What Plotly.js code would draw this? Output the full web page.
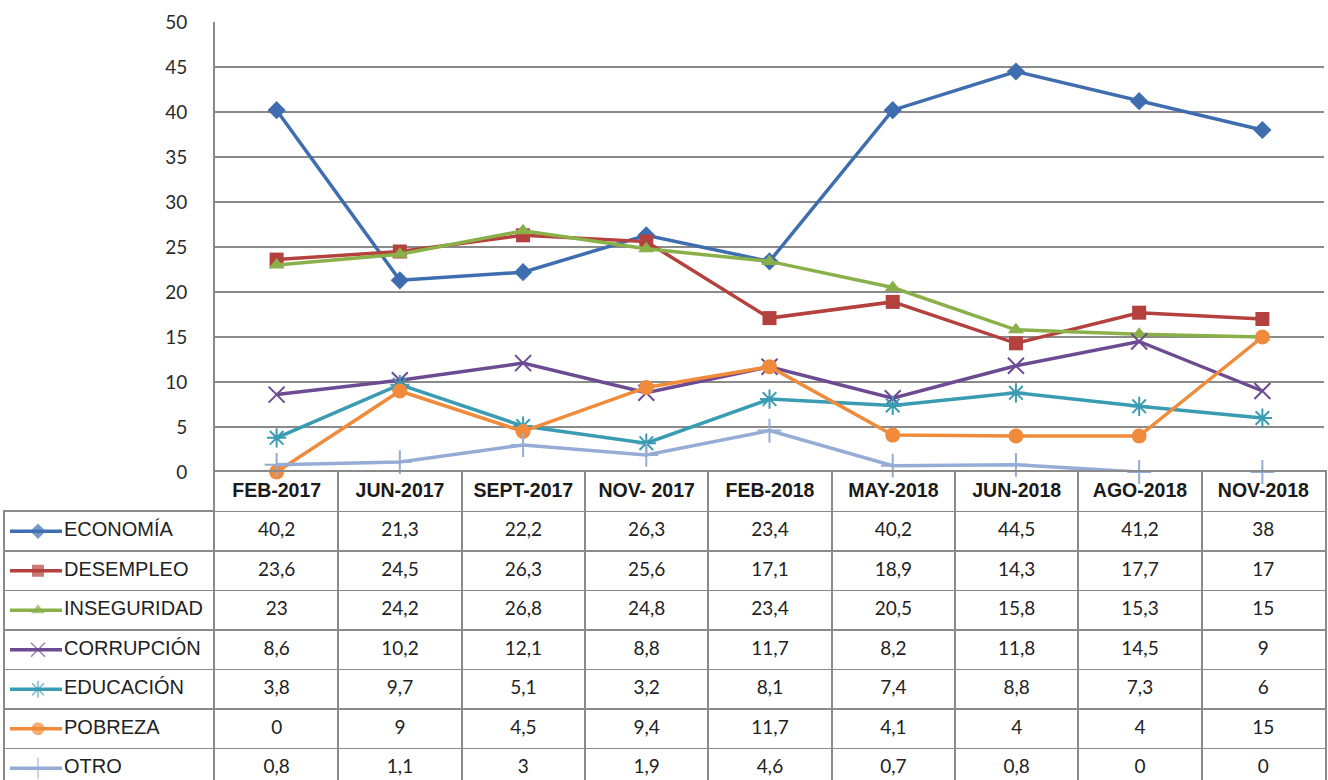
<!DOCTYPE html>
<html>
<head>
<meta charset="utf-8">
<script src="https://cdn.plot.ly/plotly-3.0.1.min.js"></script>
<style>html,body{margin:0;padding:0;background:#fff;}#chart{width:1328px;height:780px;}</style>
</head>
<body>
<div id="chart"></div>
<script>
// ---- data ----
const categories = ["FEB-2017","JUN-2017","SEPT-2017","NOV- 2017","FEB-2018","MAY-2018","JUN-2018","AGO-2018","NOV-2018"];
const seriesNames = ["ECONOMÍA","DESEMPLEO","INSEGURIDAD","CORRUPCIÓN","EDUCACIÓN","POBREZA","OTRO"];
const economia    = [40.2, 21.3, 22.2, 26.3, 23.4, 40.2, 44.5, 41.2, 38];
const desempleo   = [23.6, 24.5, 26.3, 25.6, 17.1, 18.9, 14.3, 17.7, 17];
const inseguridad = [23, 24.2, 26.8, 24.8, 23.4, 20.5, 15.8, 15.3, 15];
const corrupcion  = [8.6, 10.2, 12.1, 8.8, 11.7, 8.2, 11.8, 14.5, 9];
const educacion   = [3.8, 9.7, 5.1, 3.2, 8.1, 7.4, 8.8, 7.3, 6];
const pobreza     = [0, 9, 4.5, 9.4, 11.7, 4.1, 4, 4, 15];
const otro        = [0.8, 1.1, 3, 1.9, 4.6, 0.7, 0.8, 0, 0];
const yTicks = [0,5,10,15,20,25,30,35,40,45,50];

const seriesValues = [economia, desempleo, inseguridad, corrupcion, educacion, pobreza, otro];
const colors  = ["#3E6DB0","#B4413D","#8AB04A","#6C4B92","#3A9CB2","#F08B3B","#95ACD6"];
const symbols = ["diamond","square","triangle-up","x-thin-open","asterisk-open","circle","cross-thin-open"];
const msizes  = [14, 14, 14, 16, 16, 15, 17];

// ---- layout geometry (pixels) ----
const W = 1328, H = 780;
const px = v => v / W, py = v => 1 - v / H;
const plotL = 215, plotR = 1324, plotT = 22, plotB = 472;
const tabL = 5, tabR = 1325, rowH = 39.5;

const fmt = v => String(v).replace('.', ',');
const idx = categories.map((c, i) => i);
const numFont = 'Lato, Carlito, Liberation Sans, sans-serif';

const traces = [];
// main lines
seriesNames.forEach((name, s) => {
  traces.push({
    type: 'scatter', mode: 'lines+markers', name: name,
    x: categories, y: seriesValues[s], xaxis: 'x', yaxis: 'y',
    line: {color: colors[s], width: 3.5},
    marker: {symbol: symbols[s], size: msizes[s], color: colors[s],
             line: {color: colors[s], width: (s===3||s===4||s===6) ? 2 : 0}},
    cliponaxis: false, showlegend: false, hoverinfo: 'x+y+name'
  });
});
// table header
traces.push({
  type: 'scatter', mode: 'text', x: idx, y: idx.map(() => 0), text: categories,
  xaxis: 'x2', yaxis: 'y2', textposition: 'middle center',
  textfont: {family: 'Liberation Sans Narrow, Arial Narrow, Liberation Sans, Arial', size: 19.5, color: '#1a1a1a', weight: 'bold'},
  showlegend: false, hoverinfo: 'skip'
});
// table values
seriesNames.forEach((name, s) => {
  traces.push({
    type: 'scatter', mode: 'text', x: idx, y: idx.map(() => s + 1),
    text: seriesValues[s].map(fmt), xaxis: 'x2', yaxis: 'y2',
    textposition: 'middle center',
    textfont: {family: numFont, size: 19, color: '#222'},
    showlegend: false, hoverinfo: 'skip'
  });
});
// legend column: symbols and labels
seriesNames.forEach((name, s) => {
  traces.push({
    type: 'scatter', mode: 'lines+markers', x: [5, 33, 57], y: [s + 1, s + 1, s + 1],
    xaxis: 'x3', yaxis: 'y3',
    line: {color: colors[s], width: 3.5},
    marker: {symbol: symbols[s], size: [0, msizes[s] - 2, 0], color: colors[s],
             line: {color: colors[s], width: (s===3||s===4||s===6) ? 1.5 : 0}},
    showlegend: false, hoverinfo: 'skip', cliponaxis: false
  });
  traces.push({
    type: 'scatter', mode: 'text', x: [59], y: [s + 1], text: [name],
    xaxis: 'x3', yaxis: 'y3', textposition: 'middle right',
    textfont: {family: 'Liberation Sans', size: 20, color: '#222'},
    showlegend: false, hoverinfo: 'skip', cliponaxis: false
  });
});

const gridC = '#8a8a8a';
const gw = 1.8;
const nRowsVisible = (H - plotB) / rowH;
const legRows = (H - (plotB + rowH)) / rowH;

const layout = {
  width: W, height: H,
  margin: {l: 0, r: 0, t: 0, b: 0},
  paper_bgcolor: '#fff', plot_bgcolor: 'rgba(0,0,0,0)',
  showlegend: false,
  xaxis: {
    domain: [px(plotL), px(plotR)], type: 'category', range: [-0.5, 8.5],
    showticklabels: false, ticks: '', showgrid: false, zeroline: false,
    showline: false, fixedrange: true
  },
  yaxis: {
    domain: [py(plotB), py(plotT)], range: [0, 50], tickvals: yTicks,
    ticks: '', ticklabelstandoff: 22,
    tickfont: {family: numFont, size: 19, color: '#2a2a2a'},
    showgrid: true, gridcolor: gridC, gridwidth: gw, zeroline: false,
    showline: true, linecolor: gridC, linewidth: gw, fixedrange: true
  },
  xaxis2: {
    domain: [px(plotL), px(tabR)], range: [-0.5, 8.5], anchor: 'y2',
    tickvals: [0.5,1.5,2.5,3.5,4.5,5.5,6.5,7.5], showticklabels: false, ticks: '',
    showgrid: true, gridcolor: gridC, gridwidth: gw, zeroline: false,
    showline: true, mirror: true, linecolor: gridC, linewidth: gw, fixedrange: true
  },
  yaxis2: {
    domain: [0, py(plotB)], range: [nRowsVisible - 0.5, -0.5], anchor: 'x2',
    tickvals: [0.5,1.5,2.5,3.5,4.5,5.5,6.5], showticklabels: false, ticks: '',
    showgrid: true, gridcolor: gridC, gridwidth: gw, zeroline: false,
    showline: true, mirror: true, linecolor: gridC, linewidth: gw, fixedrange: true
  },
  xaxis3: {
    domain: [px(tabL), px(plotL)], range: [0, plotL - tabL], anchor: 'y3',
    showticklabels: false, ticks: '', showgrid: false, zeroline: false,
    showline: true, mirror: true, linecolor: gridC, linewidth: gw, fixedrange: true
  },
  yaxis3: {
    domain: [0, py(plotB + rowH)], range: [legRows + 0.5, 0.5], anchor: 'x3',
    tickvals: [1.5,2.5,3.5,4.5,5.5,6.5], showticklabels: false, ticks: '',
    showgrid: true, gridcolor: gridC, gridwidth: gw, zeroline: false,
    showline: true, mirror: false, linecolor: gridC, linewidth: gw, fixedrange: true
  }
};

Plotly.newPlot('chart', traces, layout, {displayModeBar: false, staticPlot: true});
</script>
</body>
</html>
